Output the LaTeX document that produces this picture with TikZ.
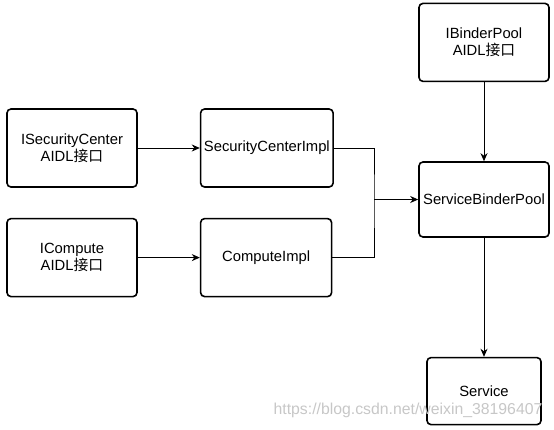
\documentclass[tikz,border=0pt]{standalone}
\usepackage{fontspec}
\setmainfont{Liberation Sans}
\newfontfamily\cjk{Noto Sans CJK SC}
\usetikzlibrary{positioning, arrows.meta}

\tikzset{
  blk/.style={rectangle,rounded corners=4pt,draw,line width=1.6pt,fill=white,
    minimum width=130pt,minimum height=78pt,align=center,font=\fontsize{14.8}{17}\selectfont},
  conn/.style={line width=0.9pt,-{Stealth[length=8pt,width=7pt,inset=2.5pt]}}
}

\begin{document}
\begin{tikzpicture}[x=1pt,y=-1pt]
\useasboundingbox (0,0) rectangle (554,429);
\node (isc) [blk] at (72,148) {ISecurityCenter\\AIDL{\cjk 接口}};
\node (sci) [blk,right=62pt of isc,minimum width=131pt] {SecurityCenterImpl};
\node (icp) [blk,below=30pt of isc] {ICompute\\AIDL{\cjk 接口}};
\node (cpi) [blk,right=62pt of icp,minimum width=131pt] {ComputeImpl};
\node (sbp) [blk,minimum height=75pt] at (484,199.5) {ServiceBinderPool};
\node (ibp) [blk,above=79pt of sbp] {IBinderPool\\AIDL{\cjk 接口}};
\node (svc) [blk,below=119pt of sbp,minimum width=114pt,minimum height=67pt] {Service};
\coordinate (bus) at (374,199.5);
\draw [conn](isc) -- (sci);
\draw [conn](icp) -- (cpi);
\draw [line width=0.9pt](sci.east) -| (bus) |- (cpi.east);
\draw [conn](bus) -- (sbp);
\draw [conn](ibp) -- (sbp);
\draw [conn](sbp) -- (svc);
% watermark
\node (wm) [text=black!22,font=\fontsize{15.8}{18}\selectfont] at (408,410) {https://blog.csdn.net/weixin\_38196407};
\end{tikzpicture}
\end{document}
